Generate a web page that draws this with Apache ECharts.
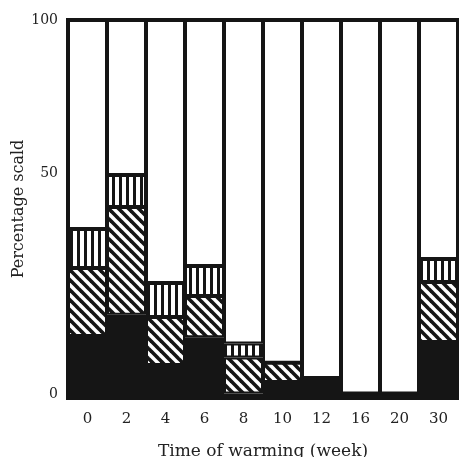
<!DOCTYPE html>
<html><head><meta charset="utf-8">
<script src="https://cdn.jsdelivr.net/npm/echarts@6/dist/echarts.min.js"></script>
<style>html,body{margin:0;padding:0;background:#fff}#c{width:459px;height:457px}</style>
</head><body><div id="c"></div>
<script>
// Categories: time of warming (weeks)
const weeks = ['0', '2', '4', '6', '8', '10', '12', '16', '20', '30'];
// Stacked segments (percent of plot height), bottom to top
const solidPart    = [16.4, 22.0, 8.7, 16.1, 1.2, 4.2, 5.3, 1.2, 1.2, 14.8];
const diagonalPart = [18.0, 28.5, 12.7, 10.9, 9.5, 5.1, 0, 0, 0, 15.9];
const verticalPart = [10.3, 8.5, 9.0, 7.9, 3.7, 0, 0, 0, 0, 6.1];
const blankPart    = [55.3, 41.0, 69.6, 65.1, 85.6, 90.7, 94.7, 98.8, 98.8, 63.2];
// Y tick labels as printed, and where they sit on the plot
const yTickPos  = [1, 59.5, 100];
const yTickText = ['0', '50', '100'];

const INK = '#151515';
const FONT = 'DejaVu Serif';

function diagHatch() {
  const s = 10, c = document.createElement('canvas');
  c.width = s; c.height = s;
  const g = c.getContext('2d');
  g.fillStyle = '#fff'; g.fillRect(0, 0, s, s);
  g.strokeStyle = INK; g.lineWidth = 3.6;
  for (const k of [-s, 0, s]) {
    g.beginPath(); g.moveTo(k - 2, -2); g.lineTo(k + s + 2, s + 2); g.stroke();
  }
  return c;
}
function vertHatch() {
  const c = document.createElement('canvas');
  c.width = 7; c.height = 4;
  const g = c.getContext('2d');
  g.fillStyle = '#fff'; g.fillRect(0, 0, 7, 4);
  g.fillStyle = INK; g.fillRect(0, 0, 3, 4);
  return c;
}

const border = { borderColor: INK, borderWidth: 2 };
const chart = echarts.init(document.getElementById('c'), null, { renderer: 'canvas' });
chart.setOption({
  animation: false,
  backgroundColor: '#fff',
  grid: { left: 68, right: 1, top: 20, bottom: 59, outerBoundsMode: 'none', containLabel: false,
          show: true, borderColor: INK, borderWidth: 4, backgroundColor: 'transparent' },
  xAxis: {
    type: 'category', data: weeks,
    axisLine: { show: false }, axisTick: { show: false },
    axisLabel: { fontFamily: FONT, fontSize: 15, color: '#222', margin: 14 },
    name: 'Time of warming (week)', nameLocation: 'middle', nameGap: 45,
    nameTextStyle: { fontFamily: FONT, fontSize: 17, color: '#222' }
  },
  yAxis: {
    type: 'value', min: 0, max: 100,
    axisLine: { show: false }, axisTick: { show: false }, splitLine: { show: false },
    axisLabel: {
      customValues: yTickPos, fontFamily: FONT, fontSize: 14, color: '#222', margin: 10,
      formatter: v => { const i = yTickPos.indexOf(v); return i >= 0 ? yTickText[i] : ''; }
    },
    name: 'Percentage scald', nameLocation: 'middle', nameGap: 41, nameRotate: 90, nameMoveOverlap: false,
    nameTextStyle: { fontFamily: FONT, fontSize: 16, color: '#222' }
  },
  series: [
    { type: 'bar', stack: 's', barCategoryGap: '0%', data: solidPart, itemStyle: Object.assign({ color: INK }, border) },
    { type: 'bar', stack: 's', data: diagonalPart, itemStyle: Object.assign({ color: { image: diagHatch(), repeat: 'repeat' } }, border) },
    { type: 'bar', stack: 's', data: verticalPart, itemStyle: Object.assign({ color: { image: vertHatch(), repeat: 'repeat' } }, border) },
    { type: 'bar', stack: 's', data: blankPart, itemStyle: Object.assign({ color: '#fff' }, border) }
  ]
});
</script></body></html>
